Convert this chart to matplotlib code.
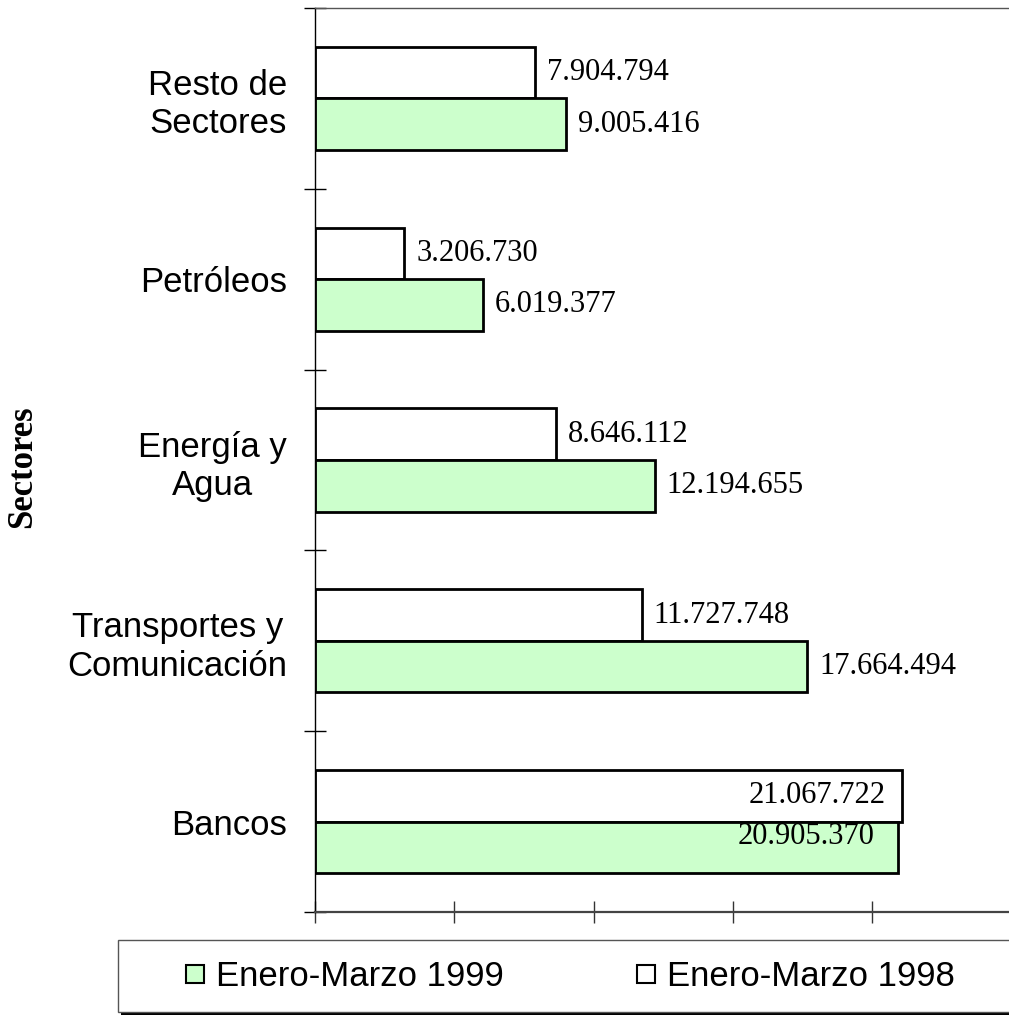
import numpy as np
import matplotlib
matplotlib.use('agg')
import matplotlib.pyplot as plt
from matplotlib.lines import Line2D
from matplotlib.patches import Rectangle

# datos (de arriba hacia abajo)
sectores = ['Resto de\nSectores', 'Petróleos', 'Energía y\nAgua',
            'Transportes y\nComunicación', 'Bancos']
valores_1999 = [9005416, 6019377, 12194655, 17664494, 20905370]
valores_1998 = [7904794, 3206730, 8646112, 11727748, 21067722]
etiquetas_1999 = ['9.005.416', '6.019.377', '12.194.655', '17.664.494', '20.905.370']
etiquetas_1998 = ['7.904.794', '3.206.730', '8.646.112', '11.727.748', '21.067.722']
x_ticks = [0, 5000000, 10000000, 15000000, 20000000]

verde = '#CCFFCC'
W, H = 1009, 1019

fig = plt.figure(figsize=(W / 100, H / 100), dpi=100)
ax = fig.add_axes([315 / W, 1 - 912 / H, 1 - 315 / W, (912 - 8) / H])

y = np.arange(len(sectores))
h = 0.285
b98 = ax.barh(y - h / 2, valores_1998, height=h, color='white', edgecolor='black', linewidth=2)
b99 = ax.barh(y + h / 2, valores_1999, height=h, color=verde, edgecolor='black', linewidth=2)

ax.set_xlim(0, 24.9e6)
ax.set_ylim(len(sectores) - 0.5, -0.5)

# etiquetas de valores
fuente = dict(family='Liberation Serif', fontsize=22)
for i in range(len(sectores)):
    if valores_1998[i] > 20e6:
        ax.annotate(etiquetas_1998[i], (valores_1998[i], y[i] - h / 2), xytext=(-12, 0),
                    textcoords='offset points', ha='right', va='center', **fuente)
        ax.annotate(etiquetas_1999[i], (valores_1999[i], y[i] + h / 2), xytext=(-17, 8),
                    textcoords='offset points', ha='right', va='center', **fuente)
    else:
        ax.annotate(etiquetas_1998[i], (valores_1998[i], y[i] - h / 2), xytext=(8.5, 0),
                    textcoords='offset points', ha='left', va='center', **fuente)
        ax.annotate(etiquetas_1999[i], (valores_1999[i], y[i] + h / 2), xytext=(8.5, 0),
                    textcoords='offset points', ha='left', va='center', **fuente)

# ejes
ax.set_xticks(x_ticks)
ax.set_xticklabels([])
ax.tick_params(axis='x', direction='inout', length=16, width=1, color='#333333')
ax.set_yticks(np.arange(len(sectores) + 1) - 0.5)
ax.set_yticklabels([])
ax.tick_params(axis='y', which='major', direction='inout', length=16, width=1, color='black')
ax.set_yticks(y, sectores, minor=True)
ax.tick_params(axis='y', which='minor', length=0, pad=20)
for lab in ax.get_yticklabels(minor=True):
    lab.set_family('Liberation Sans')
    lab.set_fontsize(25)
    lab.set_multialignment('center')

ax.spines['right'].set_visible(False)
ax.spines['top'].set_color('#555555')
ax.spines['top'].set_linewidth(1)
ax.spines['left'].set_color('black')
ax.spines['left'].set_linewidth(1)
ax.spines['bottom'].set_color('#444444')
ax.spines['bottom'].set_linewidth(1.6)

fig.text(23 / W, 1 - 467 / H, 'Sectores', rotation=90, ha='center', va='center',
         family='Liberation Serif', fontweight='bold', fontsize=25)

# leyenda con sombra
x0, y0, x1, y1 = 118, 940, 1015, 1012
fig.patches.append(Rectangle(((x0 + 3) / W, 1 - (y1 + 3) / H), (x1 - x0) / W, (y1 - y0) / H,
                             transform=fig.transFigure, facecolor='black', edgecolor='none'))
fig.patches.append(Rectangle((x0 / W, 1 - y1 / H), (x1 - x0) / W, (y1 - y0) / H,
                             transform=fig.transFigure, facecolor='white', edgecolor='#555555',
                             linewidth=1))

handles = [Line2D([], [], marker='s', linestyle='none', markersize=13,
                  markerfacecolor=verde, markeredgecolor='black', markeredgewidth=1.5),
           Line2D([], [], marker='s', linestyle='none', markersize=13,
                  markerfacecolor='white', markeredgecolor='black', markeredgewidth=1.5)]
leg = fig.legend(handles, ['Enero-Marzo 1999', 'Enero-Marzo 1998'], loc='center left',
                 bbox_to_anchor=(185 / W, 1 - 977 / H), ncol=2, frameon=False,
                 borderpad=0, borderaxespad=0, handlelength=0.6, handletextpad=0.3,
                 columnspacing=3.8, prop={'family': 'Liberation Sans', 'size': 25})

fig.savefig('out.png', dpi=100)
